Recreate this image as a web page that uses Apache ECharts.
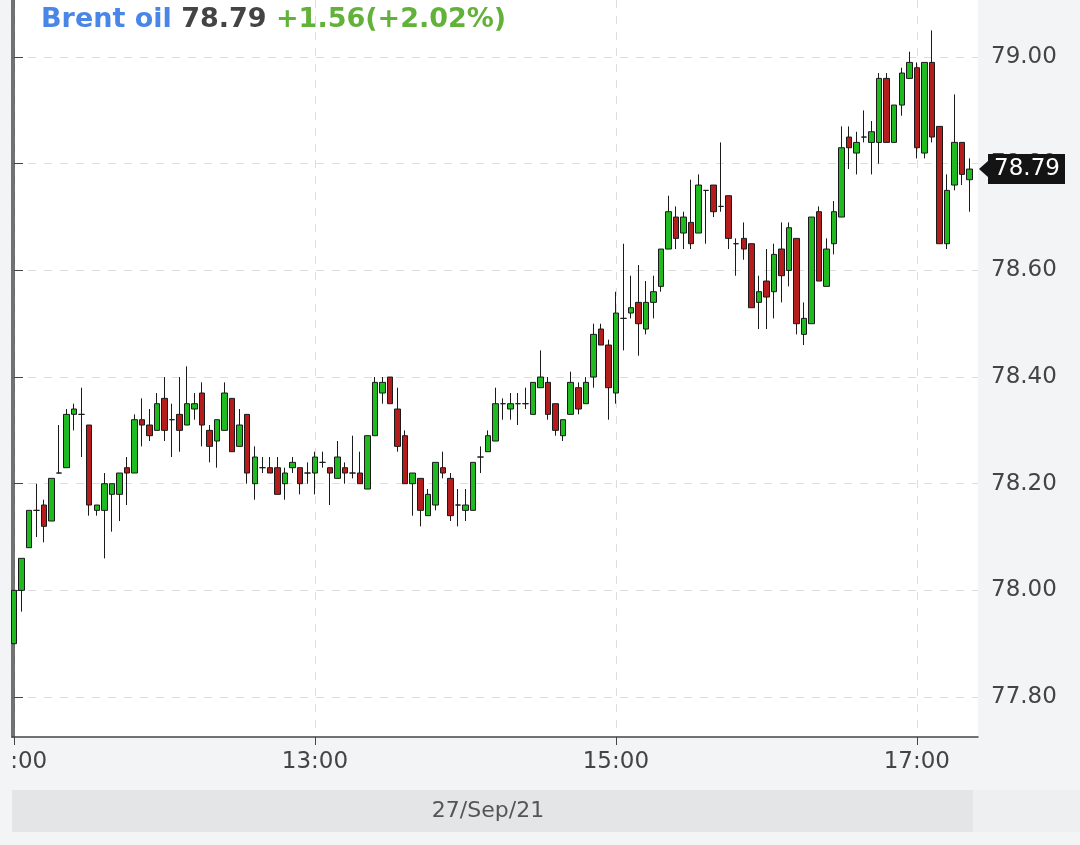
<!DOCTYPE html>
<html>
<head>
<meta charset="utf-8">
<style>
  html, body { margin: 0; padding: 0; background: #f3f4f6; }
  #chart { width: 1080px; height: 845px; }
</style>
<script src="https://cdn.jsdelivr.net/npm/echarts@6/dist/echarts.min.js"></script>
</head>
<body>
<div id="chart"></div>
<script>
// ---------------- DATA ----------------
const instrument = 'Brent oil';
const lastPrice = 78.79;
const change = 1.56;
const changePct = 2.02;
const dateLabel = '27/Sep/21';
const sessionStart = '11:00';   // first candle
const candleMinutes = 3;        // 3-minute candles

const open = [
  77.90, 78.00, 78.08, 78.15, 78.16, 78.13, 78.22, 78.23, 78.33, 78.33,
  78.31, 78.15, 78.15, 78.18, 78.18, 78.23, 78.22, 78.32, 78.31, 78.30,
  78.36, 78.32, 78.33, 78.31, 78.34, 78.37, 78.30, 78.28, 78.30, 78.36,
  78.27, 78.33, 78.20, 78.23, 78.23, 78.23, 78.20, 78.23, 78.23, 78.22,
  78.22, 78.24, 78.23, 78.21, 78.23, 78.22, 78.22, 78.19, 78.29, 78.37,
  78.40, 78.34, 78.29, 78.20, 78.21, 78.14, 78.16, 78.23, 78.21, 78.16,
  78.15, 78.15, 78.25, 78.26, 78.28, 78.35, 78.34, 78.35, 78.35, 78.33,
  78.38, 78.39, 78.35, 78.29, 78.33, 78.38, 78.35, 78.40, 78.49, 78.46,
  78.37, 78.51, 78.52, 78.54, 78.49, 78.54, 78.57, 78.64, 78.70, 78.67,
  78.69, 78.67, 78.75, 78.76, 78.72, 78.74, 78.65, 78.66, 78.65, 78.54,
  78.58, 78.56, 78.64, 78.60, 78.66, 78.48, 78.50, 78.71, 78.57, 78.65,
  78.70, 78.85, 78.82, 78.85, 78.84, 78.84, 78.96, 78.84, 78.91, 78.96,
  78.98, 78.82, 78.99, 78.87, 78.65, 78.76, 78.84, 78.77
];
const close = [
  78.00, 78.06, 78.15, 78.15, 78.12, 78.21, 78.22, 78.33, 78.34, 78.33,
  78.16, 78.16, 78.20, 78.20, 78.22, 78.22, 78.32, 78.31, 78.29, 78.35,
  78.30, 78.32, 78.30, 78.35, 78.35, 78.31, 78.27, 78.32, 78.37, 78.26,
  78.31, 78.22, 78.25, 78.23, 78.22, 78.18, 78.22, 78.24, 78.20, 78.22,
  78.25, 78.24, 78.22, 78.25, 78.22, 78.22, 78.20, 78.29, 78.39, 78.39,
  78.35, 78.27, 78.20, 78.22, 78.15, 78.18, 78.24, 78.22, 78.14, 78.16,
  78.16, 78.24, 78.25, 78.29, 78.35, 78.35, 78.35, 78.35, 78.35, 78.39,
  78.40, 78.33, 78.30, 78.32, 78.39, 78.34, 78.39, 78.48, 78.46, 78.38,
  78.52, 78.51, 78.53, 78.50, 78.54, 78.56, 78.64, 78.71, 78.66, 78.70,
  78.65, 78.76, 78.75, 78.71, 78.72, 78.66, 78.65, 78.64, 78.53, 78.56,
  78.55, 78.63, 78.59, 78.68, 78.50, 78.51, 78.70, 78.58, 78.64, 78.71,
  78.83, 78.83, 78.84, 78.85, 78.86, 78.96, 78.84, 78.91, 78.97, 78.99,
  78.83, 78.99, 78.85, 78.65, 78.75, 78.84, 78.78, 78.79
];
const low = [
  77.90, 77.96, 78.08, 78.10, 78.09, 78.13, 78.22, 78.23, 78.30, 78.25,
  78.14, 78.14, 78.06, 78.11, 78.13, 78.16, 78.22, 78.27, 78.28, 78.30,
  78.28, 78.25, 78.26, 78.31, 78.32, 78.27, 78.24, 78.23, 78.30, 78.26,
  78.27, 78.20, 78.17, 78.22, 78.22, 78.18, 78.17, 78.22, 78.18, 78.20,
  78.18, 78.23, 78.16, 78.21, 78.20, 78.21, 78.20, 78.19, 78.29, 78.35,
  78.35, 78.26, 78.20, 78.14, 78.12, 78.14, 78.15, 78.21, 78.13, 78.12,
  78.13, 78.15, 78.22, 78.26, 78.28, 78.32, 78.32, 78.31, 78.34, 78.33,
  78.38, 78.32, 78.29, 78.28, 78.33, 78.33, 78.35, 78.38, 78.46, 78.32,
  78.35, 78.45, 78.51, 78.44, 78.48, 78.51, 78.56, 78.64, 78.64, 78.64,
  78.64, 78.67, 78.65, 78.70, 78.71, 78.64, 78.59, 78.62, 78.53, 78.49,
  78.49, 78.51, 78.54, 78.57, 78.48, 78.46, 78.50, 78.58, 78.57, 78.63,
  78.70, 78.79, 78.78, 78.84, 78.78, 78.80, 78.84, 78.84, 78.89, 78.96,
  78.81, 78.81, 78.84, 78.65, 78.64, 78.75, 78.76, 78.71
];
const high = [
  78.00, 78.06, 78.15, 78.20, 78.17, 78.21, 78.31, 78.34, 78.35, 78.38,
  78.31, 78.16, 78.22, 78.20, 78.22, 78.25, 78.33, 78.36, 78.34, 78.37,
  78.40, 78.35, 78.40, 78.42, 78.37, 78.39, 78.31, 78.32, 78.39, 78.36,
  78.34, 78.33, 78.27, 78.25, 78.25, 78.25, 78.23, 78.25, 78.23, 78.24,
  78.26, 78.26, 78.23, 78.28, 78.24, 78.29, 78.26, 78.29, 78.40, 78.40,
  78.40, 78.38, 78.30, 78.22, 78.21, 78.19, 78.24, 78.26, 78.22, 78.19,
  78.19, 78.24, 78.27, 78.30, 78.38, 78.36, 78.37, 78.37, 78.38, 78.39,
  78.45, 78.40, 78.35, 78.32, 78.41, 78.39, 78.40, 78.50, 78.50, 78.47,
  78.56, 78.65, 78.59, 78.61, 78.58, 78.59, 78.64, 78.74, 78.72, 78.71,
  78.77, 78.78, 78.75, 78.76, 78.84, 78.74, 78.66, 78.69, 78.65, 78.59,
  78.64, 78.65, 78.69, 78.69, 78.66, 78.54, 78.70, 78.72, 78.66, 78.73,
  78.87, 78.87, 78.86, 78.90, 78.88, 78.97, 78.97, 78.91, 78.98, 79.01,
  78.99, 78.99, 79.05, 78.87, 78.78, 78.93, 78.84, 78.81
];
const xTickMinutes = [0, 120, 240, 360];          // 11:00, 13:00, 15:00, 17:00
const yTicks = [77.80, 78.00, 78.20, 78.40, 78.60, 78.80, 79.00];

// ---------------- BUILD ----------------
const startMin = parseInt(sessionStart.split(':')[0], 10) * 60 + parseInt(sessionStart.split(':')[1], 10);
const fmtTime = m => {
  const t = startMin + m;
  const h = Math.floor(t / 60), mm = Math.round(t % 60);
  return h + ':' + String(mm).padStart(2, '0');
};
const candles = open.map((o, i) => [i * candleMinutes, o, close[i], low[i], high[i]]);

const FONT = 'DejaVu Sans';
const BG = '#f3f4f6';
const chart = echarts.init(document.getElementById('chart'), null, { renderer: 'canvas' });

const yMin = 77.725, yMax = 79.107;

chart.setOption({
  backgroundColor: BG,
  animation: false,
  title: {
    left: 36, top: 1,
    text: '{a|' + instrument + ' }{b|' + lastPrice.toFixed(2) + ' }{c|+' + change.toFixed(2) + '(+' + changePct.toFixed(2) + '%)}',
    textStyle: {
      rich: {
        a: { color: '#4a86e8', fontSize: 27, fontWeight: 'bold', fontFamily: FONT },
        b: { color: '#444444', fontSize: 27, fontWeight: 'bold', fontFamily: FONT },
        c: { color: '#62b23a', fontSize: 27, fontWeight: 'bold', fontFamily: FONT }
      }
    }
  },
  grid: {
    left: 12, right: 102, top: 0, bottom: 108,
    containLabel: false, outerBoundsMode: 'none',
    show: true, backgroundColor: '#ffffff', borderWidth: 0
  },
  xAxis: {
    type: 'value', min: -0.8, max: 384.4,
    axisLine: { show: true, onZero: false, lineStyle: { color: '#444', width: 1.5 } },
    axisTick: { show: true, length: 8, customValues: xTickMinutes, lineStyle: { color: '#444' } },
    axisLabel: {
      customValues: xTickMinutes, formatter: v => fmtTime(v),
      color: '#444', fontSize: 23, fontFamily: FONT, margin: 14
    },
    splitLine: { show: true, lineStyle: { color: '#dddddd', type: [8, 8], width: 1 } }
  },
  yAxis: [
    {
      type: 'value', position: 'right', min: yMin, max: yMax, scale: true,
      axisLine: { show: true, lineStyle: { color: '#444', width: 1.5 } },
      axisTick: { show: true, length: 9, customValues: yTicks, lineStyle: { color: '#444' } },
      axisLabel: {
        customValues: yTicks, formatter: v => v.toFixed(2),
        color: '#444', fontSize: 23, fontFamily: FONT, margin: 13
      },
      splitLine: { show: true, lineStyle: { color: '#dddddd', type: [8, 8], width: 1 } }
    },
    {
      type: 'value', position: 'left', min: yMin, max: yMax, scale: true,
      axisLine: { show: true, lineStyle: { color: '#444', width: 1.5 } },
      axisTick: { show: false }, axisLabel: { show: false }, splitLine: { show: false }
    }
  ],
  series: [{
    type: 'candlestick',
    yAxisIndex: 0,
    barWidth: 6,
    data: candles,
    itemStyle: {
      color: '#1fba1f', color0: '#b51d1d',
      borderColor: '#1a1a1a', borderColor0: '#1a1a1a', borderWidth: 1
    }
  }]
});

// date bar, left-edge cut of the first time label, and last-price tag (tag positioned from the y scale)
const yp = chart.convertToPixel({ yAxisIndex: 0 }, lastPrice);
chart.setOption({
  graphic: [
    { type: 'rect', z: 100, left: 0, top: 739, shape: { width: 11, height: 50 }, style: { fill: BG }, silent: true },
    { type: 'rect', left: 12, top: 790, shape: { width: 961, height: 42 }, style: { fill: '#e4e5e7' }, silent: true },
    { type: 'rect', left: 973, top: 790, shape: { width: 107, height: 42 }, style: { fill: '#eeeff1' }, silent: true },
    { type: 'text', x: 488, y: 811, style: { text: dateLabel, fill: '#555', font: '22px "DejaVu Sans"', align: 'center', verticalAlign: 'middle' }, silent: true },
    {
      type: 'polygon', z: 100, silent: true,
      shape: { points: [[979, yp], [988, yp - 8], [988, yp - 15], [1065, yp - 15], [1065, yp + 15], [988, yp + 15], [988, yp + 8]] },
      style: { fill: '#141414' }
    },
    {
      type: 'text', z: 101, silent: true, x: 1027, y: yp,
      style: { text: lastPrice.toFixed(2), fill: '#ffffff', font: '23px "DejaVu Sans"', align: 'center', verticalAlign: 'middle' }
    }
  ]
});
</script>
</body>
</html>
